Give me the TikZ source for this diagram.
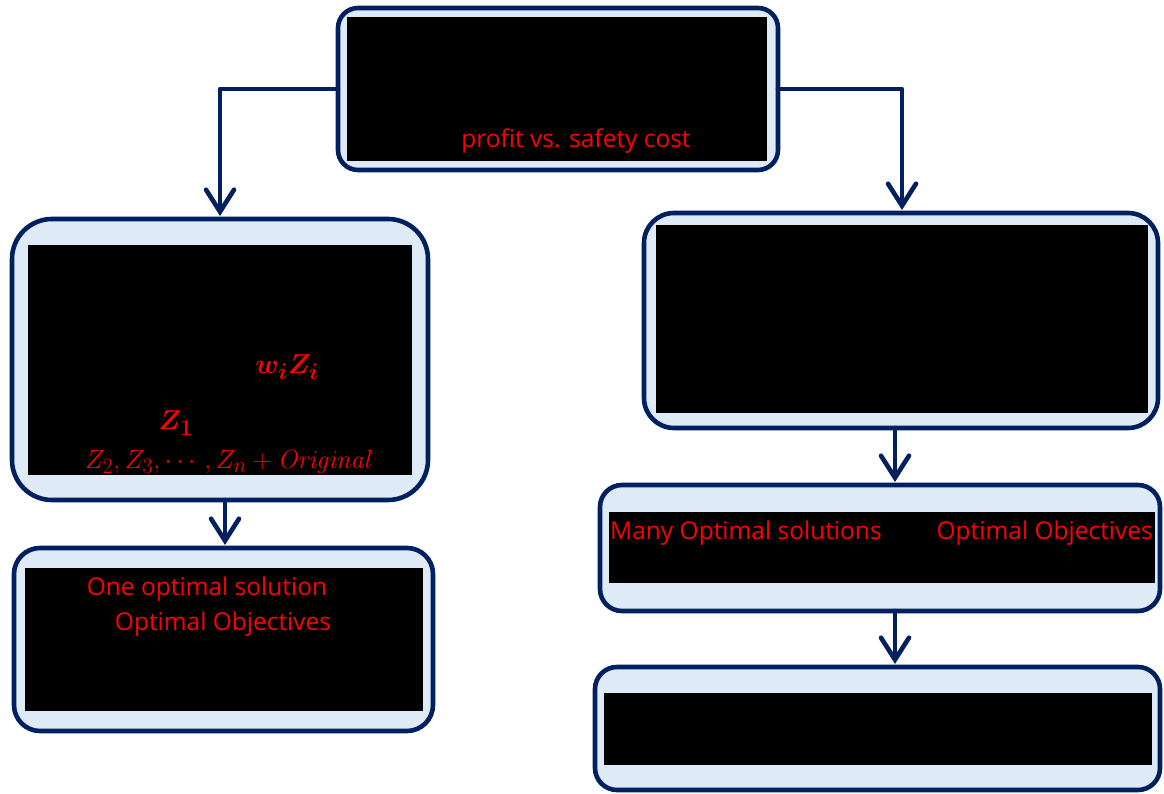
\documentclass[tikz,border=0pt]{standalone}
\usepackage[no-math]{fontspec}
\usepackage{amsmath,bm}
\setmainfont{Open Sans}
\usetikzlibrary{arrows.meta,calc}
\definecolor{navy}{RGB}{0,32,96}
\definecolor{paleblue}{RGB}{222,234,246}
\begin{document}
\begin{tikzpicture}[x=1pt,y=-1pt,
  frame/.style={draw=navy,fill=paleblue,line width=4.6pt},
  mask/.style={fill=black,draw=none},
  lbl/.style={text=red,font=\fontsize{24.5}{28}\selectfont,inner sep=0pt},
  mlbl/.style={text=red,font=\fontsize{24.88}{28}\selectfont,inner sep=0pt,scale=1.1},
  zlbl/.style={text=red,font=\fontsize{24.88}{28}\selectfont,inner sep=0pt,scale=1.06},
  flow/.style={draw=navy,line width=4.6pt,line cap=round,line join=round,
    -{Straight Barb[length=22pt,width=28pt,line width=4.6pt,line cap=round]}}]
\useasboundingbox (0,0) rectangle (1164,794);

% outer frames
\draw[frame,rounded corners=20pt] (338,8) rectangle (778,170);
\draw[frame,rounded corners=40pt] (12,219) rectangle (428,500);
\draw[frame,rounded corners=26pt] (14,548) rectangle (433,731);
\draw[frame,rounded corners=30pt] (644,213) rectangle (1158,428);
\draw[frame,rounded corners=22pt] (600,485) rectangle (1160,611);
\draw[frame,rounded corners=22pt] (595,667) rectangle (1160,790);

% frame anchors for the connectors
\coordinate (top) at (338,89);
\coordinate (topE) at (778,89);
\coordinate (l1) at (220,216);
\coordinate (r1) at (902,210);
\coordinate (l1s) at (225,500);
\coordinate (l2) at (225,545);
\coordinate (r1s) at (895,428);
\coordinate (r2) at (895,482);
\coordinate (r2s) at (895,611);
\coordinate (r3) at (895,664);

% black panels
\fill[mask] (347,17) rectangle (767,161);
\fill[mask] (28,245) rectangle (412,475);
\fill[mask] (25,568) rectangle (423,711);
\fill[mask] (656,225) rectangle (1148,413);
\fill[mask] (609,512) rectangle (1155,583);
\fill[mask] (604,693) rectangle (1152,765);

% labels
\node[lbl] (t1) at (576,141) {profit vs. safety cost};
\node[mlbl] (m1) at (287,367) {$\bm{w_i Z_i}$};
\node[mlbl] (m2) at (176,423) {$\bm{Z_1}$};
\node[zlbl] (m3) at (229,462) {$Z_2, Z_3, \cdots, Z_n + \mathit{Original}$};
\node[lbl] (a1) at (207,589) {One optimal solution};
\node[lbl] (a2) at (223,624) {Optimal Objectives};
\node[lbl,anchor=west] (b1) at (610,533) {Many Optimal solutions};
\node[lbl,anchor=east] (b2) at (1153,533) {Optimal Objectives};

% connectors
\draw[flow] (top) -| (l1);
\draw[flow] (topE) -| (r1);
\draw[flow] (l1s) -- (l2);
\draw[flow] (r1s) -- (r2);
\draw[flow] (r2s) -- (r3);
\end{tikzpicture}
\end{document}
